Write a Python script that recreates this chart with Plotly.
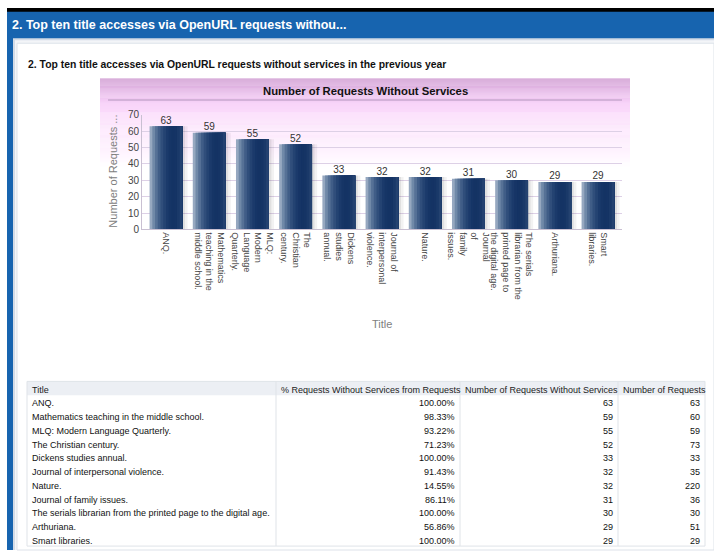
import plotly.graph_objects as go

W, H = 714, 556

titles = ["ANQ.", "Mathematics teaching in the middle school.", "MLQ: Modern Language Quarterly.",
          "The Christian century.", "Dickens studies annual.", "Journal of interpersonal violence.",
          "Nature.", "Journal of family issues.",
          "The serials librarian from the printed page to the digital age.", "Arthuriana.",
          "Smart libraries."]
chart_labels = ["ANQ.", "Mathematics<br>teaching in the<br>middle school.", "MLQ:<br>Modern<br>Language<br>Quarterly.",
                "The<br>Christian<br>century.", "Dickens<br>studies<br>annual.", "Journal of<br>interpersonal<br>violence.",
                "Nature.", "Journal<br>of<br>family<br>issues.",
                "The serials<br>librarian from the<br>printed page to<br>the digital age.", "Arthuriana.",
                "Smart<br>libraries."]
pct_without = [100.00, 98.33, 93.22, 71.23, 100.00, 91.43, 14.55, 86.11, 100.00, 56.86, 100.00]
requests_without = [63, 59, 55, 52, 33, 32, 32, 31, 30, 29, 29]
requests_total = [63, 60, 59, 73, 33, 35, 220, 36, 30, 51, 29]
y_ticks = [0, 10, 20, 30, 40, 50, 60, 70]
table_header = ["Title", "% Requests Without Services from Requests",
                "Number of Requests Without Services", "Number of Requests"]


def px(x):
    return x / W


def py(y):
    return 1 - y / H


FONT = "Liberation Sans"
shapes = []
annotations = []


def rect(x0, y0, x1, y1, fill, line=None, layer="below"):
    d = dict(type="rect", xref="paper", yref="paper", x0=px(x0), x1=px(x1), y0=py(y1), y1=py(y0),
             fillcolor=fill, layer=layer, line=dict(width=0))
    if line:
        d["line"] = dict(width=1, color=line)
    shapes.append(d)


def label(text, x, y, size, color, xanchor="left", angle=0):
    annotations.append(dict(text=text, x=px(x), y=py(y), xref="paper", yref="paper",
                            xanchor=xanchor, yanchor="middle", showarrow=False, textangle=angle,
                            font=dict(family=FONT, size=size, color=color)))


# page frame
rect(7, 3, 714, 8, "#000000")
rect(7, 7, 714, 556, "#1764AF")
rect(13, 34, 714, 556, "#d3dbe6")
rect(15, 36, 714, 556, "#f3f5f8")
rect(17, 39, 714, 556, "#ffffff", line="#dde2e9")

# pink gradient panel behind chart
stops = [(75, (204, 146, 206)), (92, (236, 192, 238)), (100, (248, 212, 249)),
         (115, (252, 222, 252)), (135, (253, 234, 253)), (155, (255, 247, 255)), (165, (255, 255, 255))]
for i in range(len(stops) - 1):
    (ya, ca), (yb, cb) = stops[i], stops[i + 1]
    n = yb - ya
    for k in range(n):
        t = k / n
        c = tuple(int(round(ca[j] + (cb[j] - ca[j]) * t)) for j in range(3))
        rect(100, ya + k, 630, ya + k + 1.05, "rgb(%d,%d,%d)" % c)
shapes.append(dict(type="line", xref="paper", yref="paper", x0=px(108), x1=px(622), y0=py(97), y1=py(97),
                   line=dict(color="#c9a8cf", width=1.5), layer="below"))

fig = go.Figure()

# bar shadows
for off, alpha in [(0.12, 0.05), (0.06, 0.07)]:
    fig.add_trace(go.Bar(x=chart_labels, y=requests_without, width=0.76, offset=-0.38 + off,
                         marker=dict(color="rgba(0,0,0,%.2f)" % alpha, line=dict(width=0)),
                         hoverinfo="skip", showlegend=False))

# gradient bars built from overlapping layers (each layer runs to the right edge)
bar_cols = [(150, 168, 192), (112, 137, 168), (86, 113, 150), (64, 93, 135), (48, 78, 123), (36, 67, 114),
            (27, 58, 107), (22, 53, 102), (20, 51, 100), (21, 52, 101), (26, 57, 105), (36, 66, 112)]
N = len(bar_cols)
bw = 0.76
for i, c in enumerate(bar_cols):
    fig.add_trace(go.Bar(x=chart_labels, y=requests_without, width=bw - i * bw / N, offset=-bw / 2 + i * bw / N,
                         marker=dict(color="rgb(%d,%d,%d)" % c, line=dict(width=0)),
                         hoverinfo="skip", showlegend=False))

# value labels
fig.add_trace(go.Scatter(x=chart_labels, y=requests_without, mode="text",
                         text=[str(v) for v in requests_without], textposition="top center",
                         textfont=dict(family=FONT, size=10, color="#333333"),
                         cliponaxis=False, hoverinfo="skip", showlegend=False))

# ---- table (built from the data arrays) ----
tbl_top, row_h = 384, 14
col_edges = [27, 276, 460, 618, 705]
n_rows = len(titles)
tbl_bottom = tbl_top + row_h * (n_rows + 1)
text_off = 8.5
rect(27, tbl_top, 705, tbl_top + row_h, "#eceff4", layer="above")
for xx in col_edges[1:-1]:
    shapes.append(dict(type="line", xref="paper", yref="paper", x0=px(xx), x1=px(xx),
                       y0=py(tbl_top), y1=py(tbl_bottom), line=dict(color="#dfe3e8", width=1), layer="above"))
shapes.append(dict(type="rect", xref="paper", yref="paper", x0=px(27), x1=px(705), y0=py(tbl_bottom),
                   y1=py(tbl_top), line=dict(color="#dfe3e8", width=1), layer="above"))
TS = 9
for j, h in enumerate(table_header):
    label(h, col_edges[j] + 3, tbl_top + text_off, TS, "#222222")
cols = [titles, ["%.2f%%" % v for v in pct_without], [str(v) for v in requests_without],
        [str(v) for v in requests_total]]
for r in range(n_rows):
    yc = tbl_top + row_h * (r + 1) + text_off
    label(cols[0][r], col_edges[0] + 3, yc, TS, "#111111")
    for j in range(1, 4):
        label(cols[j][r], col_edges[j + 1] - 3, yc, TS, "#111111", xanchor="right")

# titles
label("<b>2. Top ten title accesses via OpenURL requests withou...</b>", 10, 20, 12.5, "#ffffff")
label("<b>2. Top ten title accesses via OpenURL requests without services in the previous year</b>",
      26, 61, 10.4, "#111111")
label("<b>Number of Requests Without Services</b>", 365, 88, 11.3, "#111111", xanchor="center")
label("Number of Requests ...", 113, 170, 11, "#808080", xanchor="center", angle=-90)
label("Title", 382, 325, 11, "#808080", xanchor="center")

fig.update_layout(
    width=W, height=H, margin=dict(l=0, r=0, t=0, b=0),
    paper_bgcolor="#ffffff", plot_bgcolor="rgba(0,0,0,0)",
    barmode="overlay", bargap=0.24, showlegend=False,
    shapes=shapes, annotations=annotations,
    font=dict(family=FONT),
    xaxis=dict(domain=[px(142), px(622)], type="category", tickangle=90, showgrid=False,
               showline=True, linecolor="#c9c0d2", linewidth=1, ticks="",
               tickfont=dict(family=FONT, size=9, color="#444444"), fixedrange=True),
    yaxis=dict(domain=[py(229), py(112)], range=[0, 70], tickvals=y_ticks, showgrid=True,
               gridcolor="#ddd0e6", gridwidth=1, showline=True, linecolor="#c9c0d2", zeroline=False,
               ticks="", tickfont=dict(family=FONT, size=10, color="#444444"), fixedrange=True),
)

fig.write_html("out.html", config={"displayModeBar": False}, post_script=(
    "document.body.style.margin='0';document.body.style.padding='0';"
    "var gd=document.getElementById('{plot_id}');"
    "gd.style.position='absolute';gd.style.left='0px';gd.style.top='0px';"))
